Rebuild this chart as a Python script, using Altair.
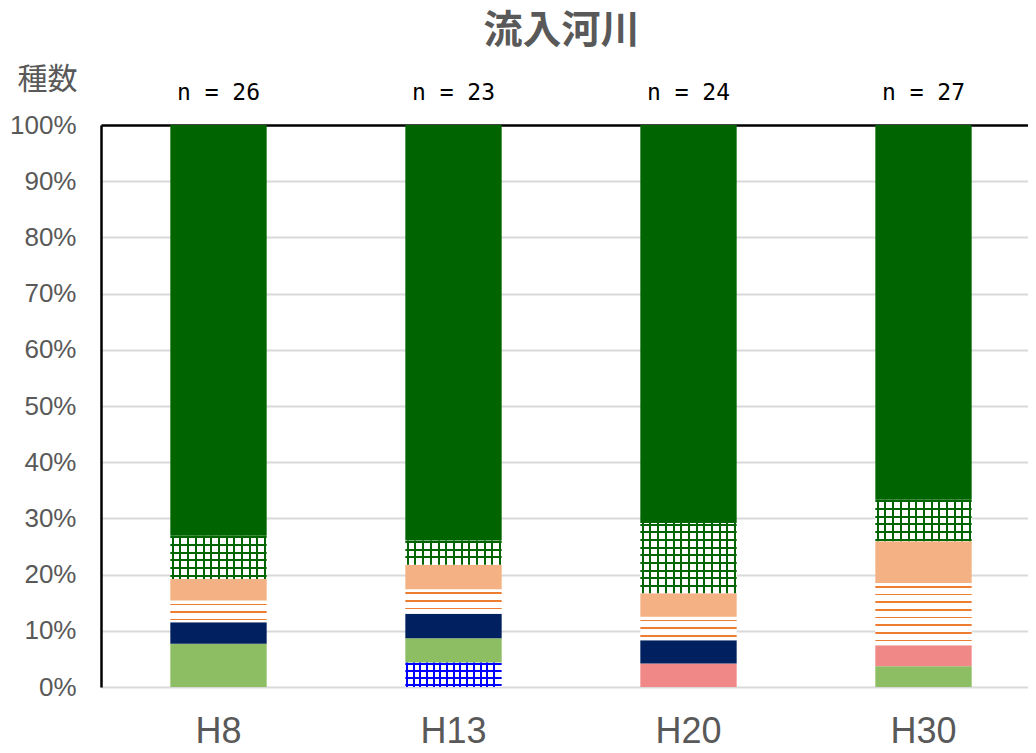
import altair as alt
import pandas as pd

# ---- data ----
years = ["H8", "H13", "H20", "H30"]
n_labels = ["n = 26", "n = 23", "n = 24", "n = 27"]
groups = ["blue_grid", "light_green", "pink", "navy",
          "orange_stripe", "light_orange", "green_grid", "dark_green"]
counts_H8 = [0, 2, 0, 1, 1, 1, 2, 19]
counts_H13 = [1, 1, 0, 1, 1, 1, 1, 17]
counts_H20 = [0, 0, 1, 1, 1, 1, 3, 17]
counts_H30 = [0, 1, 1, 0, 3, 2, 2, 18]
y_ticks = [0, 0.1, 0.2, 0.3, 0.4, 0.5, 0.6, 0.7, 0.8, 0.9, 1.0]

# ---- styles ----
base_colors = ["#FFFFFF", "#8DBE64", "#F08888", "#002060",
               "#FFFFFF", "#F4B183", "#FFFFFF", "#006400"]
GREY = "#595959"
CLEAR = "rgba(255,255,255,0)"
PLOT_W = 927
RANGE_W = 940
PLOT_H = 562
PAD_IN = 0.59
PAD_OUT = 0.295

all_counts = [counts_H8, counts_H13, counts_H20, counts_H30]
rows = []
for yr, cl in zip(years, all_counts):
    for i, (g, c) in enumerate(zip(groups, cl)):
        if c > 0:
            rows.append({"year": yr, "group": g, "order": i, "count": c})
df = pd.DataFrame(rows)
lab_df = pd.DataFrame({"year": years, "label": n_labels})

step = RANGE_W / len(years)
bar_w = step * (1 - PAD_IN)


def lines_gradient(length, color, pitch, thick, start, vertical):
    stops = [{"offset": 0, "color": CLEAR}]
    pos = start
    while pos + thick <= length - 0.3:
        a = round(pos / length, 5)
        b = round((pos + thick) / length, 5)
        stops += [{"offset": a, "color": CLEAR}, {"offset": a, "color": color},
                  {"offset": b, "color": color}, {"offset": b, "color": CLEAR}]
        pos += pitch
    stops.append({"offset": 1, "color": CLEAR})
    if vertical:  # horizontal lines stacked along y
        return {"gradient": "linear", "x1": 0, "y1": 0, "x2": 0, "y2": 1, "stops": stops}
    return {"gradient": "linear", "x1": 0, "y1": 0, "x2": 1, "y2": 0, "stops": stops}


x_enc = alt.X("year:N", sort=years,
              scale=alt.Scale(range=[0, RANGE_W], paddingInner=PAD_IN, paddingOuter=PAD_OUT),
              axis=alt.Axis(title=None, labelAngle=0, domain=False, ticks=False,
                            labelFont="Liberation Sans", labelFontSize=36,
                            labelColor=GREY, labelPadding=27))
y_enc = alt.Y("y0:Q", scale=alt.Scale(domain=[0, 1]),
              axis=alt.Axis(values=y_ticks, format=".0%", ticks=False,
                            labelFont="Liberation Sans", labelFontSize=26,
                            labelColor=GREY, labelPadding=25,
                            domainColor="black", domainWidth=2.5,
                            gridColor={"condition": {"test": "datum.value >= 1", "value": "black"},
                                       "value": "#D9D9D9"},
                            gridWidth={"condition": {"test": "datum.value >= 1", "value": 2.5},
                                       "value": 2},
                            title="種数", titleAngle=0, titleX=-54, titleY=-37,
                            titleAlign="center", titleBaseline="alphabetic",
                            titleFont="Noto Sans CJK JP", titleFontSize=30,
                            titleFontWeight="normal", titleColor=GREY))

base = alt.Chart(df).transform_stack(
    stack="count", groupby=["year"], as_=["y0", "y1"], offset="normalize",
    sort=[alt.SortField("order", "ascending")])

layers = [base.mark_bar().encode(
    x=x_enc, y=y_enc, y2="y1:Q",
    fill=alt.Fill("group:N", scale=alt.Scale(domain=groups, range=base_colors), legend=None))]

pattern_specs = {
    "orange_stripe": [("#ED7D31", 7.67, 1.6, 3.0, True)],
    "green_grid": [("#006400", 7.7, 2.0, 0.5, True), ("#006400", 7.67, 2.0, 1.5, False)],
    "blue_grid": [("#0000FF", 7.0, 2.0, 0.5, True), ("#0000FF", 6.7, 2.0, 0.5, False)],
}
for yr, cl in zip(years, all_counts):
    total = sum(cl)
    for g, c in zip(groups, cl):
        if c == 0 or g not in pattern_specs:
            continue
        h = c / total * PLOT_H
        for color, pitch, thick, start, vertical in pattern_specs[g]:
            length = h if vertical else bar_w
            grad = lines_gradient(length, color, pitch, thick, start, vertical)
            layers.append(
                base.transform_filter((alt.datum.year == yr) & (alt.datum.group == g))
                .mark_bar(fill=grad)
                .encode(x=x_enc, y=y_enc, y2="y1:Q"))

labels = alt.Chart(lab_df).mark_text(
    font="DejaVu Sans Mono", fontSize=23, color="black", baseline="alphabetic", dy=-25
).encode(x=x_enc, y=alt.datum(1), text="label:N")
layers.append(labels)

chart = alt.layer(*layers).properties(
    width=PLOT_W, height=PLOT_H,
    title=alt.TitleParams("流入河川", font="Noto Sans CJK JP", fontSize=39,
                          fontWeight="bold", color=GREY, anchor="middle",
                          baseline="alphabetic", offset=8, dx=-3, dy=26),
    autosize=alt.AutoSizeParams(type="none"),
    padding={"left": 93, "top": 117, "right": 0, "bottom": 62},
).configure_view(stroke=None).configure(background="white")

chart.save("out.html", embed_options={"renderer": "svg", "actions": False})
